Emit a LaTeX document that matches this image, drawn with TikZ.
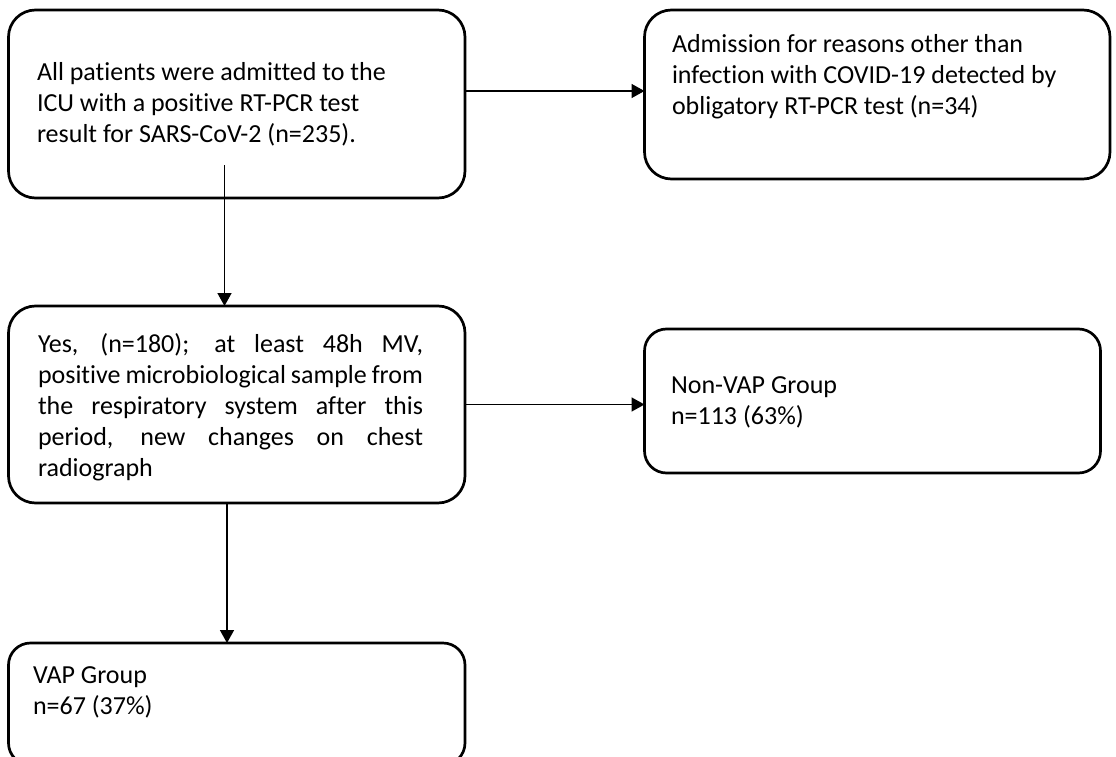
\documentclass[tikz,border=0pt]{standalone}
\usepackage{fontspec}
\setmainfont{Carlito}[Ligatures=NoCommon]
\usetikzlibrary{arrows.meta}
\begin{document}
\begin{tikzpicture}[x=1pt,y=-1pt,
  box/.style={draw=black, line width=2.7pt, rounded corners=27pt, inner sep=0pt, outer sep=0pt},
  sbox/.style={box, rounded corners=22pt},
  txt/.style={anchor=base west, inner sep=0pt, outer sep=0pt, font=\fontsize{26}{31}\selectfont},
  arr/.style={draw=black, line width=1.6pt, -{Triangle[length=13pt,width=14pt]}}]
\useasboundingbox (0,0) rectangle (1116,757);
\clip (0,0) rectangle (1116,757);
% boxes
\node[box, minimum width=456.5pt, minimum height=188pt] (box1) at (236.75,104) {};
\node[box, minimum width=465.5pt, minimum height=169pt] (box2) at (877.25,94.5) {};
\node[box, minimum width=456.5pt, minimum height=197pt] (box3) at (236.75,404.5) {};
\node[sbox, minimum width=456pt, minimum height=144pt] (box4) at (872.5,401) {};
\node[sbox, minimum width=456.5pt, minimum height=122pt] (box5) at (236.75,704) {};
% texts
\node[txt] (t1) at (37,81) {\begin{tabular}[t]{@{}l@{}}All patients were admitted to the\\ICU with a positive RT-PCR test\\result for SARS-CoV-2 (n=235).\end{tabular}};
\node[txt] (t2) at (672,53) {\begin{tabular}[t]{@{}l@{}}Admission for reasons other than\\infection with COVID-19 detected by\\obligatory RT-PCR test (n=34)\end{tabular}};
\node[txt] (t3) at (38,352) {\begin{tabular}[t]{@{}l@{}}\makebox[385pt][s]{Yes, (n=180); at least 48h MV,}\\\makebox[385pt][s]{positive microbiological sample from}\\\makebox[385pt][s]{the respiratory system after this}\\\makebox[385pt][s]{period, new changes on chest}\\radiograph\end{tabular}};
\node[txt] (t4) at (671,393) {\begin{tabular}[t]{@{}l@{}}Non-VAP Group\\n=113 (63\%)\end{tabular}};
\node[txt] (t5) at (33,683) {\begin{tabular}[t]{@{}l@{}}VAP Group\\n=67 (37\%)\end{tabular}};
% connectors
\coordinate (a1s) at (224.5,165);
\coordinate (h1) at (0,91);
\coordinate (v2) at (227,0);
\draw[arr] (a1s) -- (a1s |- box3.north);
\draw[arr] (box1.east |- h1) -- (box2.west |- h1);
\draw[arr] (box3.east) -- (box4.west |- box3.east);
\draw[arr] (box3.south -| v2) -- (box5.north -| v2);
\end{tikzpicture}
\end{document}
